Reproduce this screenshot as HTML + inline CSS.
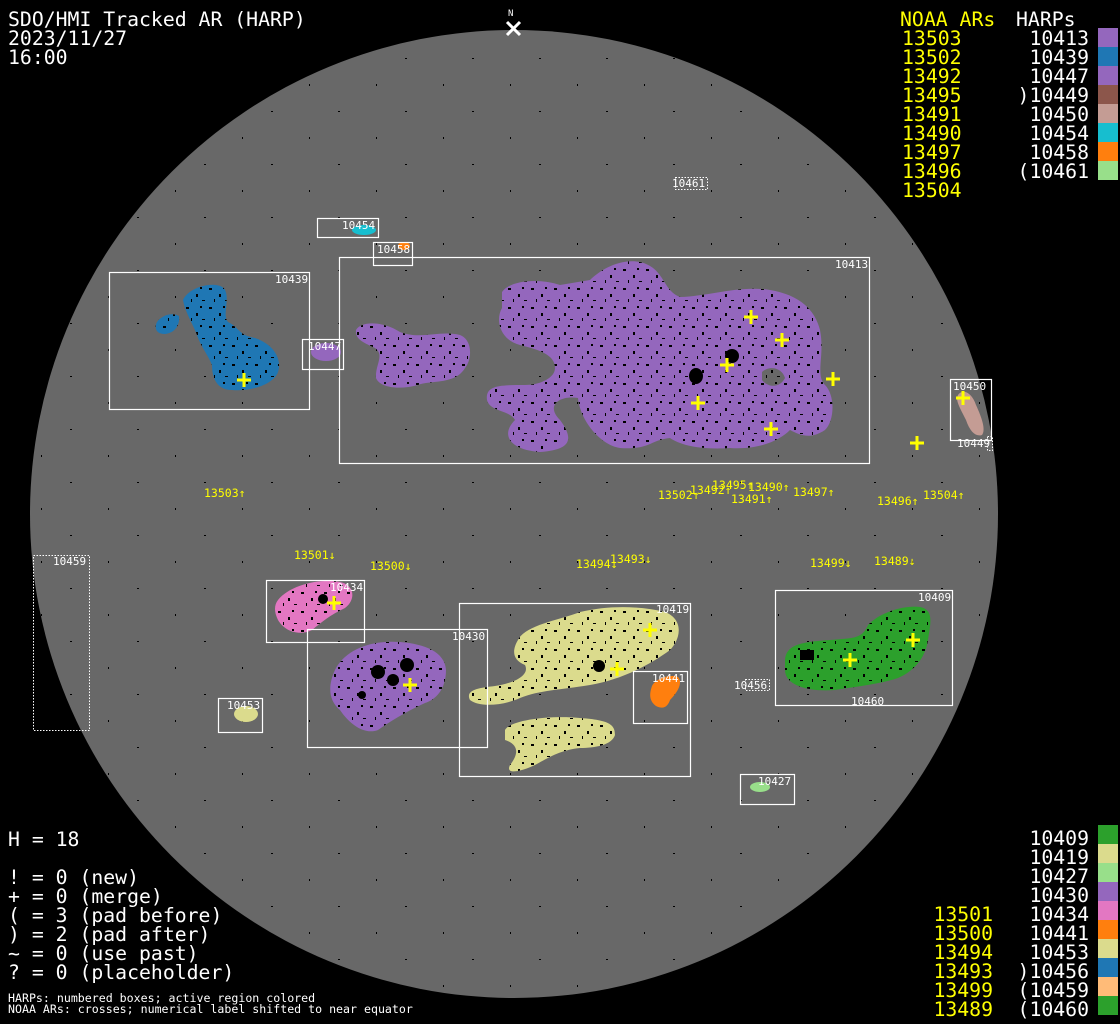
<!DOCTYPE html>
<html><head><meta charset="utf-8"><style>
html,body{margin:0;padding:0;background:#000;}
svg{display:block;}
.m{font-family:"DejaVu Sans Mono","Liberation Mono",monospace;}
</style></head><body>
<svg width="1120" height="1024" viewBox="0 0 1120 1024" xmlns="http://www.w3.org/2000/svg" class="m">
<defs>
<pattern id="sp" width="67" height="53" patternUnits="userSpaceOnUse">
<rect x="3" y="5" width="2" height="1" fill="#000"/><rect x="41" y="31" width="1" height="2" fill="#000"/>
</pattern>
<pattern id="sd" width="23" height="19" patternUnits="userSpaceOnUse">
<rect x="2" y="3" width="3" height="2" fill="#000"/><rect x="12" y="9" width="2" height="3" fill="#000"/><rect x="18" y="15" width="3" height="1" fill="#000"/><rect x="7" y="14" width="1" height="3" fill="#000"/><rect x="16" y="2" width="2" height="2" fill="#000"/>
</pattern>
<path id="b1" d="M183,300 C190,285 220,280 225,290 C230,300 222,315 228,322 C240,328 238,335 255,338 C275,345 282,360 278,372 C275,382 255,392 232,390 C215,390 212,375 212,365 C208,355 200,345 197,335 C192,322 185,312 183,300 Z M157,322 C162,315 172,312 179,316 C180,325 175,333 165,334 C156,334 154,328 157,322 Z"/>
<path id="b2" d="M502,292 C510,280 540,278 560,285 L590,280 C600,270 620,258 640,262 C665,268 662,290 680,297 C710,296 740,285 770,290 C800,295 815,310 820,330 C825,355 815,375 825,385 C835,395 835,420 825,430 C810,440 800,435 790,430 C780,440 760,450 730,448 C700,450 680,445 670,438 C650,440 650,450 620,448 C600,445 580,420 578,398 C560,395 545,405 560,420 C575,440 570,450 540,452 C510,450 500,435 515,420 C510,410 490,412 487,400 C485,385 500,385 525,385 C540,385 555,378 555,368 C555,355 540,350 520,345 C500,340 495,320 502,308 Z"/>
<path id="b3" d="M356,330 C362,320 385,322 400,332 C420,340 440,330 460,335 C473,340 472,360 465,368 C455,385 430,380 418,385 C400,390 380,388 376,378 C375,365 385,355 375,348 C365,343 355,340 356,330 Z"/>
<path id="b4" d="M278,600 C290,585 320,578 340,582 C355,585 356,600 345,608 C330,615 322,622 312,630 C300,636 285,632 278,620 C274,612 274,605 278,600 Z"/>
<path id="b5" d="M335,670 C345,650 370,640 400,642 C425,644 445,652 446,670 C446,690 435,700 425,703 C410,710 395,718 378,730 C365,735 350,725 340,710 C328,700 328,685 335,670 Z"/>
<path id="b6" d="M518,640 C525,625 560,620 580,612 C610,605 640,606 665,612 C685,620 680,640 670,650 C650,665 620,680 590,685 C560,690 540,690 520,698 C505,705 480,708 470,700 C465,690 478,688 495,686 C515,683 530,675 525,665 C512,660 512,650 518,640 Z"/>
<path id="b7" d="M505,730 C510,720 550,715 580,718 C610,720 615,725 615,735 C612,745 595,748 580,748 C560,750 548,758 535,765 C520,772 505,775 510,765 C518,755 520,745 505,740 Z"/>
<path id="b8" d="M785,660 C786,645 800,642 830,640 C850,638 862,640 868,625 C880,612 905,605 920,607 C935,610 930,625 928,640 C925,660 912,672 898,678 C880,684 860,686 835,690 C810,692 785,686 785,670 Z"/>
<clipPath id="cb"><use href="#b1"/><use href="#b2"/><use href="#b3"/><use href="#b4"/><use href="#b5"/><use href="#b6"/><use href="#b7"/><use href="#b8"/></clipPath>
<clipPath id="cd"><circle cx="514" cy="514" r="484"/></clipPath>
</defs>
<rect width="1120" height="1024" fill="#000"/>
<circle cx="514" cy="514" r="484" fill="#686868"/>
<rect x="30" y="30" width="968" height="968" fill="url(#sp)" clip-path="url(#cd)"/>

<g>
<use href="#b1" fill="#1f77b4"/>
<use href="#b2" fill="#9467bd"/>
<path fill="#686868" d="M762,372 C770,365 782,368 785,378 C780,388 768,388 762,380 Z"/>
<use href="#b3" fill="#9467bd"/>
<ellipse cx="326" cy="352" rx="15" ry="9" fill="#9467bd"/>
<ellipse cx="364" cy="230" rx="12" ry="5" fill="#17becf"/>
<ellipse cx="404" cy="246" rx="6" ry="4" fill="#ff7f0e"/>
<path fill="#c49c94" d="M958,395 C963,388 972,393 976,405 C982,418 986,430 982,435 C976,437 970,432 966,420 C960,408 955,400 958,395 Z"/>
<use href="#b4" fill="#e377c2"/>
<use href="#b5" fill="#9467bd"/>
<ellipse cx="246" cy="714" rx="12" ry="8" fill="#dbdb8d"/>
<use href="#b6" fill="#dbdb8d"/>
<use href="#b7" fill="#dbdb8d"/>
<path fill="#ff7f0e" d="M652,686 C656,678 670,674 678,677 C684,684 675,695 670,700 C668,706 664,710 656,706 C648,700 650,692 652,686 Z"/>
<ellipse cx="760" cy="787" rx="10" ry="5" fill="#98df8a"/>
<use href="#b8" fill="#2ca02c"/>
</g>
<rect x="100" y="250" width="900" height="540" fill="url(#sd)" clip-path="url(#cb)"/>

<g fill="#000">
<circle cx="732" cy="356" r="7"/><ellipse cx="696" cy="376" rx="7" ry="8"/>
<circle cx="599" cy="666" r="6"/><circle cx="323" cy="599" r="5"/>
<circle cx="378" cy="672" r="7"/><circle cx="407" cy="665" r="7"/><circle cx="393" cy="680" r="6"/><circle cx="362" cy="695" r="4"/>
<rect x="800" y="650" width="14" height="10"/>
</g>

<g fill="none" stroke="#fff" stroke-width="1.2">
<rect x="317.5" y="218.5" width="61" height="19"/>
<rect x="373.5" y="242.5" width="39" height="23"/>
<rect x="109.5" y="272.5" width="200" height="137"/>
<rect x="302.5" y="339.5" width="41" height="30"/>
<rect x="339.5" y="257.5" width="530" height="206"/>
<rect x="950.5" y="379.5" width="41" height="61"/>
<rect x="266.5" y="580.5" width="98" height="62"/>
<rect x="307.5" y="629.5" width="180" height="118"/>
<rect x="459.5" y="603.5" width="231" height="173"/>
<rect x="633.5" y="671.5" width="54" height="52"/>
<rect x="218.5" y="698.5" width="44" height="34"/>
<rect x="740.5" y="774.5" width="54" height="30"/>
<rect x="775.5" y="590.5" width="177" height="115"/>
</g>
<g fill="none" stroke="#fff" stroke-width="1" stroke-dasharray="1.5,1.5">
<rect x="33.5" y="555.5" width="56" height="175"/>
<rect x="675.5" y="177.5" width="32" height="12"/>
<rect x="745.5" y="679.5" width="24" height="11"/>
<rect x="987.5" y="436.5" width="5" height="14"/>
</g>

<g fill="#fff" font-size="11">
<text x="342" y="229">10454</text><text x="377" y="253">10458</text>
<text x="275" y="283">10439</text><text x="308" y="350">10447</text>
<text x="835" y="268">10413</text><text x="953" y="390">10450</text>
<text x="957" y="447">10449</text><text x="672" y="187">10461</text>
<text x="53" y="565">10459</text><text x="330" y="591">10434</text>
<text x="452" y="640">10430</text><text x="656" y="613">10419</text>
<text x="652" y="682">10441</text><text x="227" y="709">10453</text>
<text x="734" y="689">10456</text><text x="758" y="785">10427</text>
<text x="918" y="601">10409</text><text x="851" y="705">10460</text>
</g>

<g stroke="#ffff00" stroke-width="3" fill="none">
<path d="M237,380h14M244,373v14"/>
<path d="M327,603h14M334,596v14"/>
<path d="M403,685h14M410,678v14"/>
<path d="M643,630h14M650,623v14"/>
<path d="M610,669h14M617,662v14"/>
<path d="M744,317h14M751,310v14"/>
<path d="M775,340h14M782,333v14"/>
<path d="M720,365h14M727,358v14"/>
<path d="M691,403h14M698,396v14"/>
<path d="M826,379h14M833,372v14"/>
<path d="M764,429h14M771,422v14"/>
<path d="M910,443h14M917,436v14"/>
<path d="M956,398h14M963,391v14"/>
<path d="M843,660h14M850,653v14"/>
<path d="M906,640h14M913,633v14"/>
</g>

<g fill="#ffff00" font-size="11.5">
<text x="204" y="497">13503↑</text>
<text x="294" y="559">13501↓</text>
<text x="370" y="570">13500↓</text>
<text x="576" y="568">13494↓</text>
<text x="610" y="563">13493↓</text>
<text x="658" y="499">13502↑</text>
<text x="690" y="494">13492↑</text>
<text x="712" y="489">13495↑</text>
<text x="748" y="491">13490↑</text>
<text x="731" y="503">13491↑</text>
<text x="793" y="496">13497↑</text>
<text x="877" y="505">13496↑</text>
<text x="923" y="499">13504↑</text>
<text x="810" y="567">13499↓</text>
<text x="874" y="565">13489↓</text>
</g>

<text x="508" y="16" fill="#fff" font-size="9">N</text>
<path d="M507,22l13,13M520,22l-13,13" stroke="#fff" stroke-width="3"/>

<g fill="#fff" font-size="19.8">
<text x="8" y="26">SDO/HMI Tracked AR (HARP)</text>
<text x="8" y="45">2023/11/27</text>
<text x="8" y="64">16:00</text>
</g>

<text x="900" y="26" fill="#ffff00" font-size="19.8">NOAA ARs</text>
<text x="1016" y="26" fill="#fff" font-size="19.8">HARPs</text>
<g fill="#ffff00" font-size="19.8">
<text x="902" y="45">13503</text><text x="902" y="64">13502</text><text x="902" y="83">13492</text>
<text x="902" y="102">13495</text><text x="902" y="121">13491</text><text x="902" y="140">13490</text>
<text x="902" y="159">13497</text><text x="902" y="178">13496</text><text x="902" y="197">13504</text>
</g>
<g fill="#fff" font-size="19.8" text-anchor="end">
<text x="1089" y="45">10413</text><text x="1089" y="64">10439</text><text x="1089" y="83">10447</text>
<text x="1089" y="102">)10449</text><text x="1089" y="121">10450</text><text x="1089" y="140">10454</text>
<text x="1089" y="159">10458</text><text x="1089" y="178">(10461</text>
</g>
<rect x="1098" y="28" width="20" height="19" fill="#9467bd"/>
<rect x="1098" y="47" width="20" height="19" fill="#1f77b4"/>
<rect x="1098" y="66" width="20" height="19" fill="#9467bd"/>
<rect x="1098" y="85" width="20" height="19" fill="#8c564b"/>
<rect x="1098" y="104" width="20" height="19" fill="#c49c94"/>
<rect x="1098" y="123" width="20" height="19" fill="#17becf"/>
<rect x="1098" y="142" width="20" height="19" fill="#ff7f0e"/>
<rect x="1098" y="161" width="20" height="19" fill="#98df8a"/>

<g fill="#fff" font-size="19.8" text-anchor="end">
<text x="1089" y="845">10409</text><text x="1089" y="864">10419</text><text x="1089" y="883">10427</text>
<text x="1089" y="902">10430</text><text x="1089" y="921">10434</text><text x="1089" y="940">10441</text>
<text x="1089" y="959">10453</text><text x="1089" y="978">)10456</text><text x="1089" y="997">(10459</text>
<text x="1089" y="1016">(10460</text>
</g>
<g fill="#ffff00" font-size="19.8" text-anchor="end">
<text x="993" y="921">13501</text><text x="993" y="940">13500</text><text x="993" y="959">13494</text>
<text x="993" y="978">13493</text><text x="993" y="997">13499</text><text x="993" y="1016">13489</text>
</g>
<rect x="1098" y="825" width="20" height="19" fill="#2ca02c"/>
<rect x="1098" y="844" width="20" height="19" fill="#dbdb8d"/>
<rect x="1098" y="863" width="20" height="19" fill="#98df8a"/>
<rect x="1098" y="882" width="20" height="19" fill="#9467bd"/>
<rect x="1098" y="901" width="20" height="19" fill="#e377c2"/>
<rect x="1098" y="920" width="20" height="19" fill="#ff7f0e"/>
<rect x="1098" y="939" width="20" height="19" fill="#dbdb8d"/>
<rect x="1098" y="958" width="20" height="19" fill="#1f77b4"/>
<rect x="1098" y="977" width="20" height="19" fill="#ffbb78"/>
<rect x="1098" y="996" width="20" height="19" fill="#2ca02c"/>

<g fill="#fff" font-size="19.8">
<text x="8" y="846">H = 18</text>
<text x="8" y="884">! = 0 (new)</text>
<text x="8" y="903">+ = 0 (merge)</text>
<text x="8" y="922">( = 3 (pad before)</text>
<text x="8" y="941">) = 2 (pad after)</text>
<text x="8" y="960">~ = 0 (use past)</text>
<text x="8" y="979">? = 0 (placeholder)</text>
</g>
<g fill="#fff" font-size="11.6">
<text x="8" y="1002">HARPs: numbered boxes; active region colored</text>
<text x="8" y="1013">NOAA ARs: crosses; numerical label shifted to near equator</text>
</g>
</svg>
</body></html>
